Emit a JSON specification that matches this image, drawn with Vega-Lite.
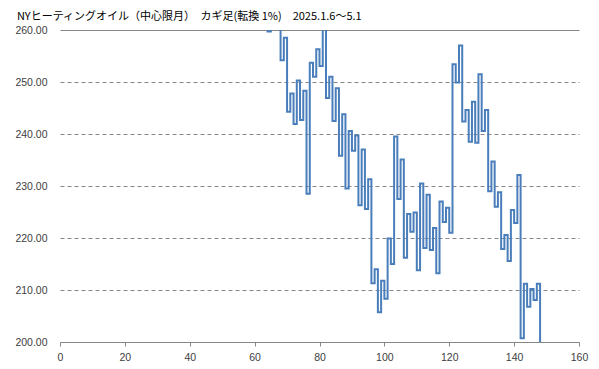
{
  "$schema": "https://vega.github.io/schema/vega-lite/v6.json",
  "autosize": "none",
  "width": 519,
  "height": 312,
  "padding": {"left": 60, "top": 30, "right": 20, "bottom": 27},
  "background": "white",
  "title": {
    "text": "NYヒーティングオイル（中心限月）　カギ足(転換 1%)　2025.1.6～5.1",
    "anchor": "start",
    "orient": "top",
    "offset": 3,
    "dx": 2,
    "font": "Noto Sans CJK JP",
    "fontSize": 11,
    "fontWeight": "normal",
    "color": "#000000"
  },
  "data": {
    "values": [
      {"i": 63, "v": 262}, {"i": 64, "v": 259.7}, {"i": 65, "v": 265}, {"i": 66, "v": 261}, {"i": 67, "v": 265},
      {"i": 68, "v": 254.2}, {"i": 69, "v": 258.5}, {"i": 70, "v": 244.3}, {"i": 71, "v": 247.8}, {"i": 72, "v": 241.9},
      {"i": 73, "v": 250.3}, {"i": 74, "v": 242.7}, {"i": 75, "v": 248.3}, {"i": 76, "v": 228.5}, {"i": 77, "v": 253.7},
      {"i": 78, "v": 251.0}, {"i": 79, "v": 256.3}, {"i": 80, "v": 253.1}, {"i": 81, "v": 261.5}, {"i": 82, "v": 246.9},
      {"i": 83, "v": 251.0}, {"i": 84, "v": 242.5}, {"i": 85, "v": 248.8}, {"i": 86, "v": 235.8}, {"i": 87, "v": 243.8},
      {"i": 88, "v": 229.5}, {"i": 89, "v": 240.6}, {"i": 90, "v": 236.8}, {"i": 91, "v": 239.7}, {"i": 92, "v": 226.3},
      {"i": 93, "v": 237.0}, {"i": 94, "v": 225.6}, {"i": 95, "v": 231.3}, {"i": 96, "v": 211.3}, {"i": 97, "v": 214.0},
      {"i": 98, "v": 205.7}, {"i": 99, "v": 211.8}, {"i": 100, "v": 208.3}, {"i": 101, "v": 219.9}, {"i": 102, "v": 215.0},
      {"i": 103, "v": 239.5}, {"i": 104, "v": 227.5}, {"i": 105, "v": 235.1}, {"i": 106, "v": 216.2}, {"i": 107, "v": 224.6},
      {"i": 108, "v": 221.2}, {"i": 109, "v": 224.9}, {"i": 110, "v": 213.8}, {"i": 111, "v": 230.5}, {"i": 112, "v": 218.1},
      {"i": 113, "v": 228.3}, {"i": 114, "v": 217.7}, {"i": 115, "v": 221.9}, {"i": 116, "v": 213.2}, {"i": 117, "v": 227.0},
      {"i": 118, "v": 223.1}, {"i": 119, "v": 225.8}, {"i": 120, "v": 221.0}, {"i": 121, "v": 253.4}, {"i": 122, "v": 249.9},
      {"i": 123, "v": 257.0}, {"i": 124, "v": 242.4}, {"i": 125, "v": 244.6}, {"i": 126, "v": 238.5}, {"i": 127, "v": 246.2},
      {"i": 128, "v": 238.3}, {"i": 129, "v": 251.5}, {"i": 130, "v": 240.6}, {"i": 131, "v": 244.6}, {"i": 132, "v": 229.0},
      {"i": 133, "v": 234.7}, {"i": 134, "v": 226.0}, {"i": 135, "v": 228.8}, {"i": 136, "v": 217.9}, {"i": 137, "v": 220.6},
      {"i": 138, "v": 215.6}, {"i": 139, "v": 225.4}, {"i": 140, "v": 222.9}, {"i": 141, "v": 232.1}, {"i": 142, "v": 200.7},
      {"i": 143, "v": 211.2}, {"i": 144, "v": 206.8}, {"i": 145, "v": 210.2}, {"i": 146, "v": 208.1}, {"i": 147, "v": 211.2},
      {"i": 148, "v": 199.8}
    ]
  },
  "mark": {"type": "line", "interpolate": "step-after", "clip": true, "color": "#4a7ebb", "strokeWidth": 2},
  "encoding": {
    "x": {
      "field": "i", "type": "quantitative",
      "scale": {"domain": [0, 160], "nice": false, "zero": false},
      "axis": {
        "title": null, "values": [0, 20, 40, 60, 80, 100, 120, 140, 160],
        "grid": false, "domainColor": "#868686", "domainWidth": 1,
        "tickColor": "#868686", "tickSize": 4, "labelPadding": 6, "labelFlush": false,
        "labelFont": "Liberation Sans", "labelFontSize": 10.5, "labelColor": "#404040"
      }
    },
    "y": {
      "field": "v", "type": "quantitative",
      "scale": {"domain": [200, 260], "nice": false, "zero": false},
      "axis": {
        "title": null, "values": [200, 210, 220, 230, 240, 250, 260], "format": ".2f",
        "domain": false, "ticks": false, "labelPadding": 13, "labelFlush": false,
        "grid": true, "gridColor": "#868686", "gridWidth": 1,
        "gridDash": {"condition": {"test": "datum.value === 260", "value": []}, "value": [4, 3]},
        "labelFont": "Liberation Sans", "labelFontSize": 10.5, "labelColor": "#404040"
      }
    }
  },
  "config": {"view": {"stroke": null}}
}
